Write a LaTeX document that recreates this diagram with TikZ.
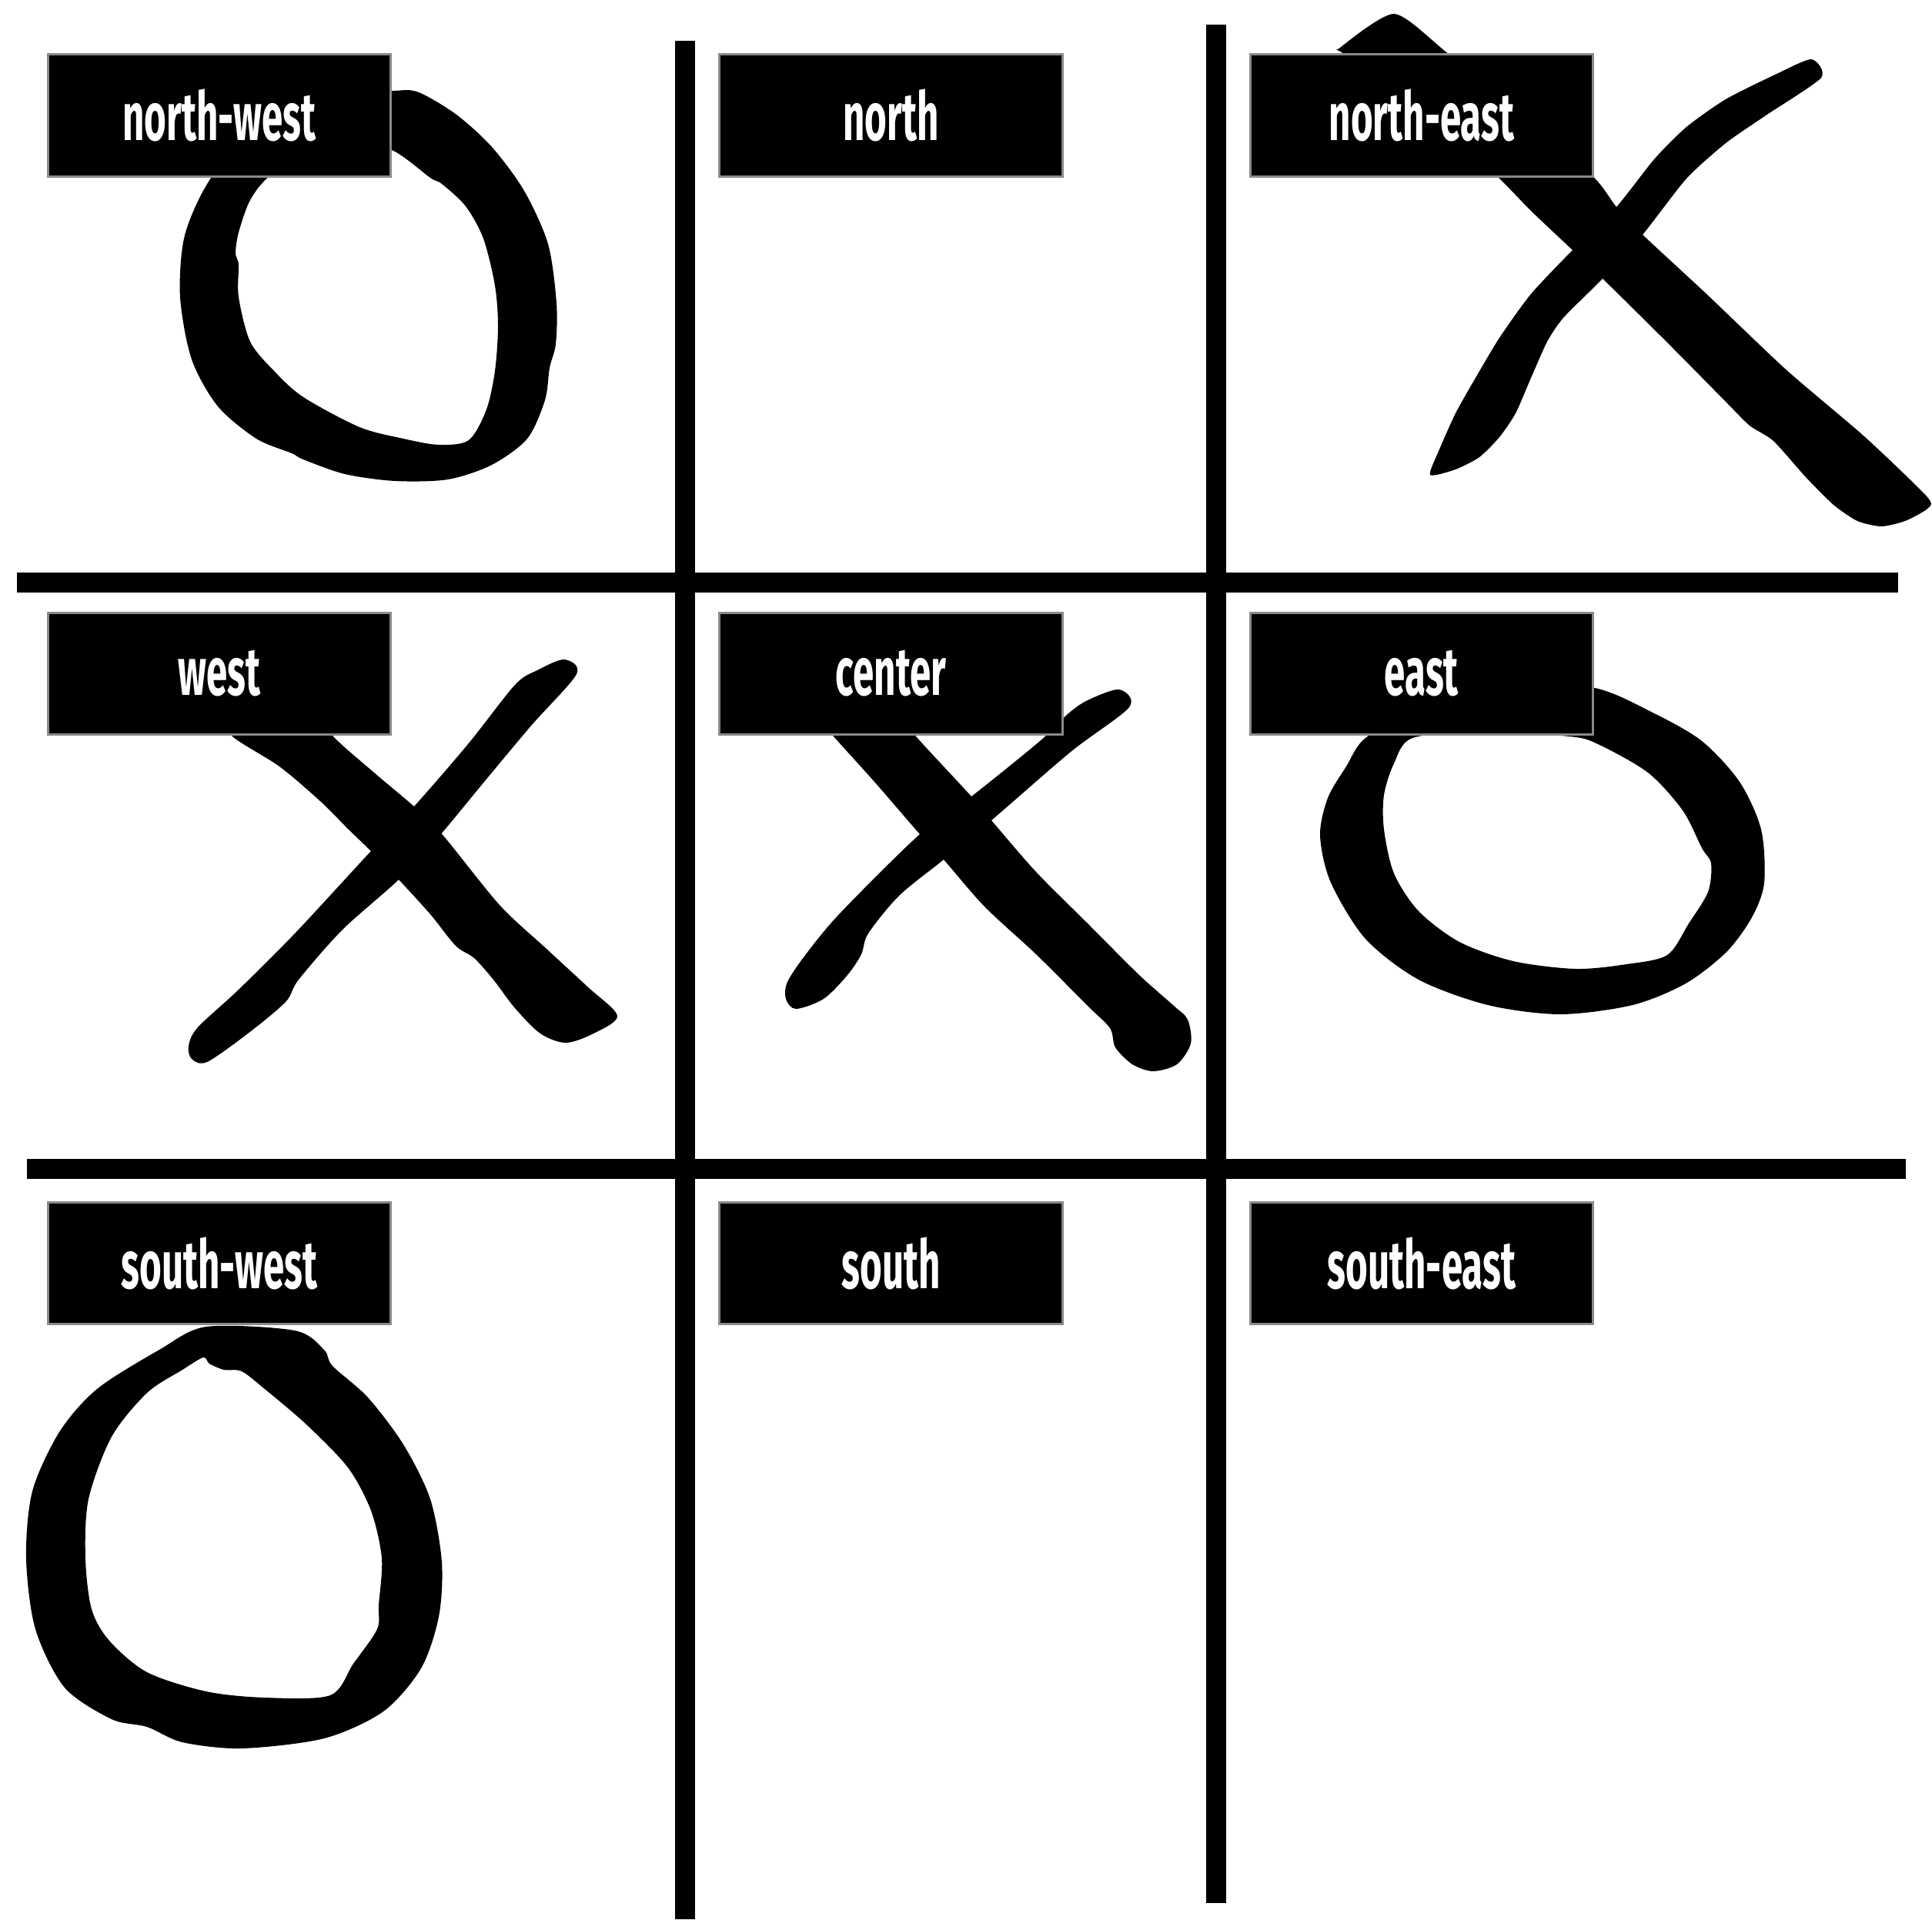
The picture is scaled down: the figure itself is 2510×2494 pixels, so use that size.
\documentclass[tikz,border=0pt]{standalone}
\usepackage{fontspec}
\setmainfont{Fira Sans}[FakeStretch=0.56]
\usepackage{tikz}
\usetikzlibrary{positioning}
\definecolor{tagedge}{HTML}{878A8F}

\begin{document}
\begin{tikzpicture}[
    x=0.01cm, y=-0.01cm,
    every node/.style={font=\fontsize{25}{30}\selectfont\bfseries},
    tag/.style={
      draw=tagedge, line width=0.03cm,
      fill=black, text=white,
      minimum width=4.45cm, minimum height=1.58cm,
      inner sep=0pt
    },
    bar/.style={line width=0.26cm, black},
    ink/.style={fill=black}
  ]
    \useasboundingbox (0,0) rectangle (2510,2494);

    % board
    \draw[bar] (890,53) -- (890,2494);
    \draw[bar] (1580,32) -- (1580,2473);
    \draw[bar] (22,757) -- (2466,757);
    \draw[bar] (35,1519) -- (2476,1519);

    % O, top left
    \fill[ink, even odd rule]
      plot[smooth cycle] coordinates {(448,126) (513,118) (544,120) (593,149) (639,191)
        (681,248) (712,317) (723,394) (722,447) (714,478) (708,520) (685,570) (639,604)
        (582,623) (513,625) (448,616) (394,597) (379,589) (333,570) (283,528) (249,467)
        (234,386) (239,310) (264,248) (300,200) (371,160)}
      plot[smooth cycle] coordinates {(509,195) (559,231) (574,239) (605,268) (628,310)
        (643,371) (647,424) (643,482) (632,532) (609,572) (570,578) (524,570) (467,555)
        (394,516) (356,482) (325,444) (310,386) (310,344) (306,329) (310,302) (325,260)
        (350,229) (400,200) (448,185)};

    % X, top right
    \fill[ink] plot[smooth cycle, tension=0.4] coordinates {(1741,62) (1811,18) (1878,67)
        (1990,160) (2072,232) (2100,269) (2134,305) (2217,382) (2320,480) (2423,568)
        (2504,646) (2504,661) (2475,677) (2444,684) (2413,677) (2382,656) (2346,620)
        (2304,573) (2273,553) (2242,522) (2165,444) (2082,362) (2043,325) (1989,274)
        (1948,232) (1855,145) (1746,70)};
    \fill[ink] plot[smooth cycle, tension=0.4] coordinates {(2353,77) (2366,101) (2294,150)
        (2242,186) (2191,232) (2134,305) (2082,362) (2031,413) (2010,444) (1989,491)
        (1969,537) (1948,568) (1922,594) (1891,610) (1858,617) (1870,584) (1891,537)
        (1917,491) (1948,439) (1989,382) (2043,325) (2100,269) (2149,207) (2191,165)
        (2242,129) (2304,98)};

    % X, middle left
    \fill[ink] plot[smooth cycle] coordinates {(290,930) (302,957) (363,996) (416,1041)
        (453,1078) (482,1106) (518,1143) (559,1188) (592,1229) (616,1245) (641,1273)
        (669,1310) (702,1343) (735,1355) (771,1343) (802,1320) (763,1282) (710,1233)
        (649,1176) (576,1086) (539,1049) (486,1004) (433,957) (420,930)};
    \fill[ink] plot[smooth cycle] coordinates {(733,857) (749,876) (690,943) (629,1016)
        (571,1086) (518,1143) (445,1208) (388,1273) (371,1302) (322,1343) (269,1380)
        (249,1376) (245,1359) (257,1335) (310,1286) (384,1212) (482,1106) (537,1049)
        (608,967) (669,890) (698,871)};

    % X, middle
    \fill[ink] plot[smooth cycle] coordinates {(1060,930) (1083,957) (1137,1017) (1195,1084)
        (1226,1117) (1279,1178) (1346,1240) (1413,1307) (1442,1336) (1449,1361) (1471,1383)
        (1498,1392) (1529,1383) (1547,1356) (1543,1325) (1525,1307) (1480,1267) (1413,1200)
        (1346,1133) (1288,1066) (1262,1035) (1190,957) (1170,930)};
    \fill[ink] plot[smooth cycle] coordinates {(1454,896) (1467,919) (1391,977) (1288,1066)
        (1226,1117) (1168,1164) (1128,1213) (1119,1240) (1101,1267) (1070,1298) (1034,1311)
        (1021,1298) (1023,1276) (1047,1240) (1092,1186) (1195,1084) (1262,1035) (1351,963)
        (1387,928) (1413,910)};

    % O, middle right
    \fill[ink, even odd rule]
      plot[smooth cycle] coordinates {(1966,890) (2072,894) (2149,927) (2211,963) (2260,1016)
        (2288,1078) (2292,1147) (2276,1192) (2243,1237) (2190,1278) (2121,1306) (2027,1318)
        (1933,1306) (1843,1273) (1774,1220) (1729,1147) (1715,1086) (1725,1037) (1749,996)
        (1774,959) (1843,922)}
      plot[smooth cycle] coordinates {(1925,951) (2039,957) (2076,967) (2141,1004) (2186,1053)
        (2211,1102) (2223,1122) (2219,1159) (2194,1200) (2166,1241) (2113,1253) (2047,1259)
        (1966,1249) (1896,1224) (1843,1184) (1811,1135) (1798,1078) (1798,1033) (1811,992)
        (1835,959)};

    % O, bottom left
    \fill[ink, even odd rule]
      plot[smooth cycle] coordinates {(268,1724) (383,1729) (421,1754) (432,1775) (478,1816)
        (524,1877) (559,1948) (574,2030) (570,2101) (547,2168) (498,2224) (421,2259)
        (314,2272) (237,2264) (191,2244) (145,2234) (84,2193) (46,2117) (34,2025) (42,1938)
        (77,1861) (126,1805) (207,1754)}
      plot[smooth cycle] coordinates {(264,1764) (272,1772) (291,1780) (314,1782) (344,1805)
        (398,1851) (452,1907) (482,1963) (496,2025) (492,2086) (490,2117) (459,2162)
        (429,2203) (344,2206) (268,2198) (191,2173) (142,2132) (119,2091) (111,2025)
        (115,1948) (145,1867) (191,1810) (237,1780)};

    % labels
    \node[tag] (nw) at (285,150) {north-west};
    \node[tag, right=4.24cm of nw] (n) {north};
    \node[tag, right=2.41cm of n] (ne) {north-east};
    \node[tag, below=5.64cm of nw] (w) {west};
    \node[tag, below=5.64cm of n] (c) {center};
    \node[tag, below=5.64cm of ne] (e) {east};
    \node[tag, below=6.05cm of w] (sw) {south-west};
    \node[tag, below=6.05cm of c] (s) {south};
    \node[tag, below=6.05cm of e] (se) {south-east};

\end{tikzpicture}
\end{document}
